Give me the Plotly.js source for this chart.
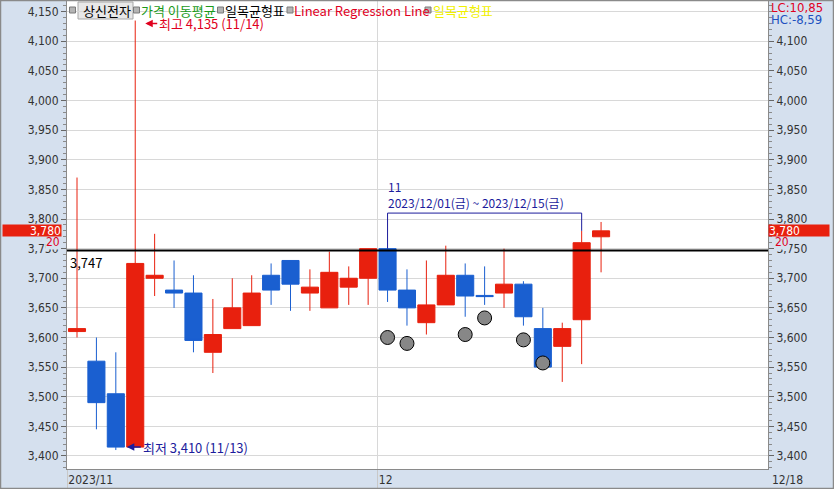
<!DOCTYPE html>
<html>
<head>
<meta charset="utf-8">
<script src="https://cdn.plot.ly/plotly-3.0.1.min.js"></script>
<style>
  html, body { margin: 0; padding: 0; background: #ffffff; }
  #chart { width: 834px; height: 489px; }
</style>
</head>
<body>
<div id="chart"></div>
<script>
// ---------- data ----------
const dates = ['2023/11/09','2023/11/10','2023/11/13','2023/11/14','2023/11/15','2023/11/16','2023/11/17',
  '2023/11/20','2023/11/21','2023/11/22','2023/11/23','2023/11/24','2023/11/27','2023/11/28','2023/11/29',
  '2023/11/30','2023/12/01','2023/12/04','2023/12/05','2023/12/06','2023/12/07','2023/12/08','2023/12/11',
  '2023/12/12','2023/12/13','2023/12/14','2023/12/15','2023/12/18'];
const openP  = [3610,3560,3505,3415,3700,3680,3675,3575,3615,3620,3705,3730,3675,3650,3685,3700,3750,3680,3625,3655,3705,3671,3675,3690,3615,3585,3630,3770];
const highP  = [3870,3600,3575,4135,3775,3730,3705,3665,3700,3705,3725,3730,3715,3745,3720,3750,3750,3715,3730,3755,3725,3720,3750,3695,3650,3625,3780,3795];
const lowP   = [3600,3445,3410,3415,3670,3650,3575,3540,3615,3620,3655,3645,3645,3650,3655,3655,3660,3620,3605,3655,3635,3655,3650,3620,3550,3525,3555,3710];
const closeP = [3615,3490,3415,3725,3705,3675,3595,3605,3650,3675,3680,3690,3685,3710,3700,3750,3680,3650,3655,3705,3670,3669,3690,3635,3550,3615,3760,3780];

// gray circle markers (일목균형표)
const dotDates  = ['2023/12/01','2023/12/04','2023/12/07','2023/12/08','2023/12/12','2023/12/13'];
const dotValues = [3600,3590,3605,3633,3596,3557];

const refLevel = 3747;             // horizontal black line
const rangeStart = '2023/12/01';   // bracket annotation
const rangeEnd   = '2023/12/15';
const bracketLevel = 3810;
const legendItems = ['상신전자','가격 이동평균','일목균형표','Linear Regression Line','일목균형표'];
const lcText = 'LC:10,85';
const hcText = 'HC:-8,59';
const remainText = '20';
const yTickVals  = [3400,3450,3500,3550,3600,3650,3700,3750,3800,3850,3900,3950,4000,4050,4100,4150];
const yTickVals2 = [3400,3450,3500,3550,3600,3650,3700,3750,3800,3850,3900,3950,4000,4050,4100];

// ---------- helpers ----------
const W = 834, H = 489, ML = 67, MR = 66, MT = 1, MB = 20;
const PW = W - ML - MR, PH = H - MT - MB;
const px = x => (x - ML) / PW;
const py = y => (H - MB - y) / PH;
const idx = d => dates.indexOf(d);
const xs = dates.map((d, i) => i);
const fmt = v => v.toLocaleString('en-US');
const wd = ['일','월','화','수','목','금','토'];
const dayName = d => { const p = d.split('/').map(Number); return wd[new Date(p[0], p[1]-1, p[2]).getDay()]; };

const RED = '#e8200e', BLUE = '#1a5fd0', NAVY = '#1c1c9c', TXTRED = '#e0001e', BAND = '#d5e0ee';
const NARROW = '"Liberation Sans Narrow","Arial Narrow","DejaVu Sans Condensed","Liberation Sans",sans-serif';
const KR = '"Noto Sans CJK KR","Noto Sans",sans-serif';

// month ticks
const tickVals = [], tickText = [];
dates.forEach((d, i) => {
  const m = d.slice(0, 7);
  if (i === 0) { tickVals.push(i - 0.5); tickText.push(m); }
  else if (m !== dates[i-1].slice(0, 7)) { tickVals.push(i - 0.5); tickText.push(String(Number(d.slice(5, 7)))); }
});

// ---------- traces ----------
const candle = {
  type: 'candlestick', x: xs, open: openP, high: highP, low: lowP, close: closeP,
  increasing: { line: { color: RED, width: 1 }, fillcolor: RED },
  decreasing: { line: { color: BLUE, width: 1 }, fillcolor: BLUE },
  whiskerwidth: 0, hoverinfo: 'skip', showlegend: false
};
const dots = {
  type: 'scatter', mode: 'markers', x: dotDates.map(idx), y: dotValues, yaxis: 'y2',
  marker: { size: 14, color: '#878787', line: { color: '#000000', width: 1 } },
  hoverinfo: 'skip', showlegend: false
};

// ---------- annotations / shapes ----------
const iMax = highP.indexOf(Math.max(...highP));
const iMin = lowP.indexOf(Math.min(...lowP));
const i1 = idx(rangeStart), i2 = idx(rangeEnd);
const nDays = i2 - i1 + 1;
const lastClose = closeP[closeP.length - 1];

const annotations = [
  { x: iMax, y: highP[iMax], xref: 'x', yref: 'y', text: '최고 ' + fmt(highP[iMax]) + ' (' + dates[iMax].slice(5) + ')',
    showarrow: true, ax: 22, ay: 0, xanchor: 'left', yanchor: 'middle', standoff: 10, yshift: -3,
    arrowhead: 2, arrowsize: 1, arrowwidth: 1.5, arrowcolor: TXTRED,
    font: { family: KR, size: 13, color: TXTRED } },
  { x: iMin, y: lowP[iMin], xref: 'x', yref: 'y', text: '최저 ' + fmt(lowP[iMin]) + ' (' + dates[iMin].slice(5) + ')',
    showarrow: true, ax: 25, ay: 0, xanchor: 'left', yanchor: 'middle', standoff: 11, yshift: 3,
    arrowhead: 2, arrowsize: 1, arrowwidth: 1.5, arrowcolor: NAVY,
    font: { family: KR, size: 13, color: NAVY } },
  { x: i1, y: bracketLevel, xref: 'x', yref: 'y', xanchor: 'left', yanchor: 'bottom', align: 'left', showarrow: false,
    xshift: -2, yshift: 0,
    text: nDays + '<br>' + rangeStart + '(' + dayName(rangeStart) + ') ~ ' + rangeEnd + '(' + dayName(rangeEnd) + ')',
    font: { family: KR, size: 12, color: NAVY } },
  { x: 0, y: refLevel, xref: 'paper', yref: 'y', xanchor: 'left', yanchor: 'top', showarrow: false, xshift: 1, yshift: -1,
    text: fmt(refLevel), font: { family: KR, size: 13, color: '#000000' } },
  // "20" labels under price tags (drawn over the axis band, partly hiding the 3,750 labels)
  { x: 0, y: lastClose, xref: 'paper', yref: 'y', xanchor: 'right', yanchor: 'middle', showarrow: false, xshift: -6, yshift: -11,
    text: remainText, bgcolor: BAND, borderpad: 0, font: { family: NARROW, size: 12, color: TXTRED } },
  { x: 1, y: lastClose, xref: 'paper', yref: 'y', xanchor: 'left', yanchor: 'middle', showarrow: false, xshift: 6, yshift: -11,
    text: remainText, bgcolor: BAND, borderpad: 0, font: { family: NARROW, size: 12, color: TXTRED } },
  // price tags
  { x: 0, y: lastClose, xref: 'paper', yref: 'y', xanchor: 'right', yanchor: 'middle', showarrow: false, xshift: -5,
    text: fmt(lastClose), bgcolor: RED, width: 58, align: 'right', height: 11, borderpad: 0,
    font: { family: NARROW, size: 12, color: '#ffffff' } },
  { x: 1, y: lastClose, xref: 'paper', yref: 'y', xanchor: 'left', yanchor: 'middle', showarrow: false, xshift: 0,
    text: fmt(lastClose), bgcolor: RED, width: 60, align: 'left', height: 11, borderpad: 0,
    font: { family: NARROW, size: 12, color: '#ffffff' } },
  // LC / HC
  { x: 1, y: py(8), xref: 'paper', yref: 'paper', xanchor: 'left', yanchor: 'middle', showarrow: false, xshift: 1,
    text: lcText, font: { family: NARROW, size: 13, color: TXTRED } },
  { x: 1, y: py(20), xref: 'paper', yref: 'paper', xanchor: 'left', yanchor: 'middle', showarrow: false, xshift: 1,
    text: hcText, font: { family: NARROW, size: 13, color: '#2050c0' } },
  // last date label in the right band
  { x: 1, y: 0, xref: 'paper', yref: 'paper', xanchor: 'left', yanchor: 'top', showarrow: false, xshift: 2, yshift: -2,
    text: dates[dates.length-1].slice(5), font: { family: NARROW, size: 12, color: '#333333' } }
];

// legend texts
const legendX = [83, 141, 225, 294, 433];
const legendColor = ['#000000', '#1a9a1a', '#000000', '#e0001e', '#f0f000'];
legendItems.forEach((t, i) => {
  annotations.push({ x: px(legendX[i]), y: py(10), xref: 'paper', yref: 'paper', xanchor: 'left', yanchor: 'middle',
    showarrow: false, xshift: -2, text: t, font: { family: KR, size: 13, color: legendColor[i] } });
});

const shapes = [
  // reference level line
  { type: 'line', xref: 'paper', yref: 'y', x0: 0, x1: 1, y0: refLevel, y1: refLevel, line: { color: '#000000', width: 2 } },
  // bracket
  { type: 'line', xref: 'x', yref: 'y', x0: i1, x1: i2, y0: bracketLevel, y1: bracketLevel, line: { color: NAVY, width: 1 } },
  { type: 'line', xref: 'x', yref: 'y', x0: i1, x1: i1, y0: bracketLevel, y1: highP[i1], line: { color: NAVY, width: 1 } },
  { type: 'line', xref: 'x', yref: 'y', x0: i2, x1: i2, y0: bracketLevel, y1: highP[i2], line: { color: NAVY, width: 1 } },
  // legend button box
  { type: 'rect', xref: 'paper', yref: 'paper', x0: px(78), x1: px(133), y0: py(19), y1: py(2),
    fillcolor: '#e8e8e8', line: { color: '#a8a8a8', width: 1 }, layer: 'below' },
  // outer frame
  { type: 'rect', xref: 'paper', yref: 'paper', x0: px(0.5), x1: px(833.5), y0: py(488.5), y1: py(0.5),
    line: { color: '#8a8a8a', width: 1.5 } }
];
// legend squares
[72.5, 136.5, 220.5, 290, 428].forEach(cx => {
  shapes.push({ type: 'rect', xref: 'paper', yref: 'paper', x0: px(cx - 3), x1: px(cx + 3), y0: py(13), y1: py(7),
    fillcolor: '#b4b4b4', line: { color: '#7a7a7a', width: 1 } });
});

const yCommon = {
  range: [3378, 4168],
  ticks: 'outside', ticklen: 5, tickcolor: '#666666', showline: true, linecolor: '#8a8a8a', linewidth: 1,
  minor: { dtick: 10, ticklen: 3, tickcolor: '#8a8a8a', ticks: 'outside', showgrid: false },
  tickfont: { family: NARROW, size: 12, color: '#333333' }, zeroline: false, fixedrange: true
};

const layout = {
  width: W, height: H,
  margin: { l: ML, r: MR, t: MT, b: MB, pad: 0 },
  paper_bgcolor: BAND, plot_bgcolor: '#ffffff',
  showlegend: false, hovermode: false, boxgap: 0.12, boxgroupgap: 0,
  xaxis: {
    range: [-0.515, 35.6], tickvals: tickVals, ticktext: tickText, ticklabelposition: 'outside right',
    ticks: 'outside', ticklen: 20, tickcolor: '#c8c8c8', showgrid: true, gridcolor: '#d8d8d8',
    showline: true, linecolor: '#8a8a8a', mirror: false, zeroline: false,
    rangeslider: { visible: false }, fixedrange: true,
    tickfont: { family: NARROW, size: 12, color: '#333333' }
  },
  yaxis: Object.assign({}, yCommon, { side: 'left', showgrid: true, gridcolor: '#d8d8d8',
    tickvals: yTickVals, ticktext: yTickVals.map(fmt) }),
  yaxis2: Object.assign({}, yCommon, { side: 'right', overlaying: 'y', matches: 'y', showgrid: false,
    tickvals: yTickVals2, ticktext: yTickVals2.map(fmt) }),
  annotations: annotations,
  shapes: shapes
};

Plotly.newPlot('chart', [candle, dots], layout, { displayModeBar: false, staticPlot: true });
</script>
</body>
</html>
